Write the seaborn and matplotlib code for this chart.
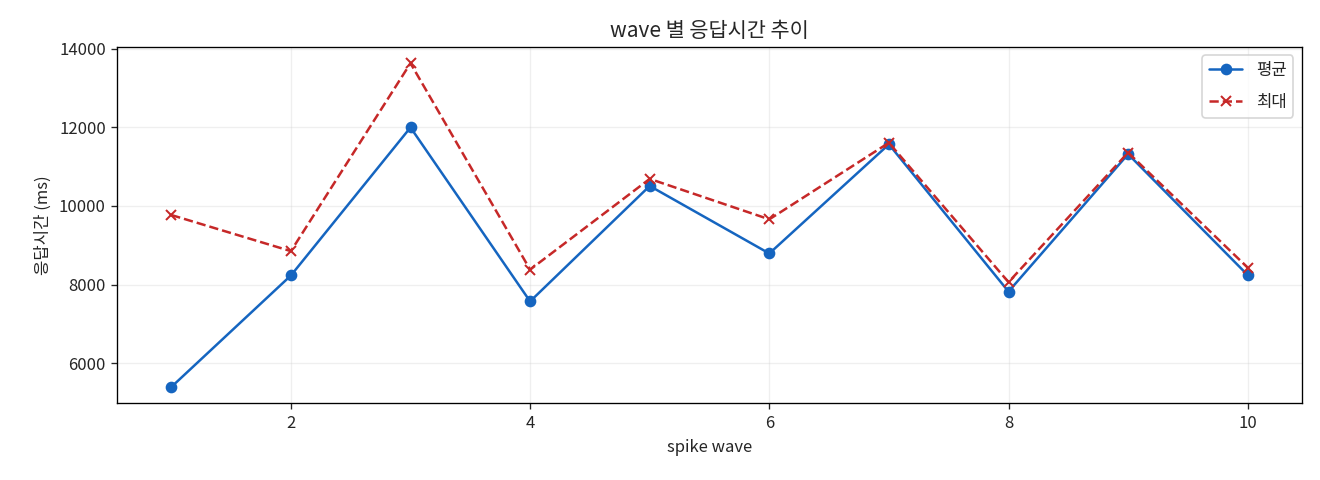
import pandas as pd
import seaborn as sns
import matplotlib.pyplot as plt

# wave 별 응답시간 (ms)
waves = [1, 2, 3, 4, 5, 6, 7, 8, 9, 10]
avg_ms = [5390, 8230, 12000, 7570, 10510, 8790, 11570, 7820, 11320, 8240]
max_ms = [9770, 8850, 13635, 8380, 10690, 9660, 11610, 8060, 11360, 8430]

df = pd.DataFrame({"wave": waves, "평균": avg_ms, "최대": max_ms})

sns.set_style("ticks")
plt.rcParams['font.family'] = ['Noto Sans CJK KR', 'DejaVu Sans']
plt.rcParams['axes.unicode_minus'] = False

fig, ax = plt.subplots(figsize=(11, 4), dpi=120)
sns.lineplot(data=df, x="wave", y="평균", marker="o", markersize=6,
             markeredgecolor="#1565C0", markeredgewidth=1,
             color="#1565C0", linewidth=1.5, label="평균", ax=ax)
sns.lineplot(data=df, x="wave", y="최대", marker="x", markersize=6,
             markeredgecolor="#C62828", markeredgewidth=1.2, color="#C62828",
             linestyle="--", linewidth=1.5, label="최대", ax=ax)

ax.set_title("wave 별 응답시간 추이", fontsize=12.5)
ax.set_xlabel("spike wave", fontsize=10)
ax.set_ylabel("응답시간 (ms)", fontsize=10)
ax.tick_params(labelsize=10)
ax.grid(True, alpha=0.3)
for s in ax.spines.values():
    s.set_color("black")
ax.legend(loc="upper right", labelspacing=0.9)

plt.subplots_adjust(left=0.089, right=0.986, top=0.902, bottom=0.16)
plt.savefig("out.png")
